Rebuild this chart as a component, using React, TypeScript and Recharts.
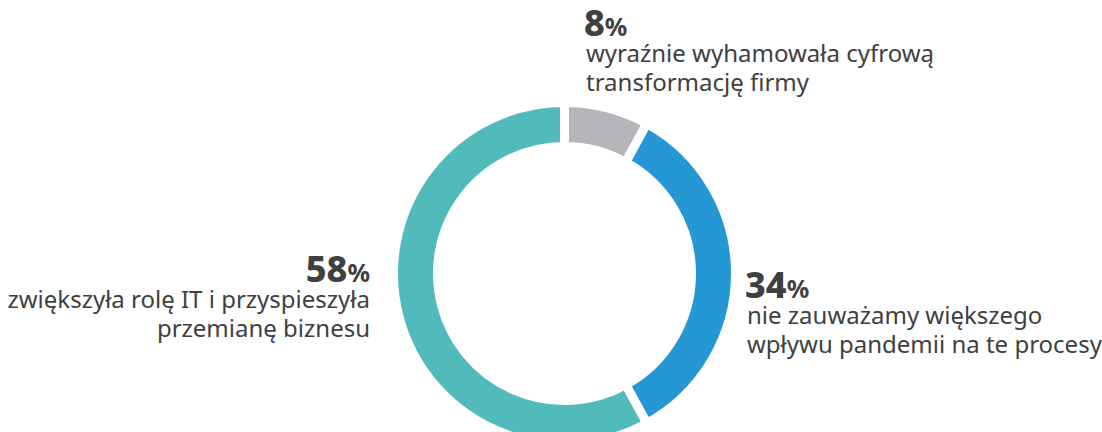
import React from "react";
import { PieChart, Pie, Cell } from "recharts";

const categories = [
  "wyraźnie wyhamowała cyfrową|transformację firmy",
  "nie zauważamy większego|wpływu pandemii na te procesy",
  "zwiększyła rolę IT i przyspieszyła|przemianę biznesu",
];
const values = [8, 34, 58];
const colors = ["#b5b6b9", "#2597d5", "#51bbbc"];

const data = categories.map((c, i) => ({ name: c, value: values[i] }));

// label layout (style only): anchor x, baseline y of number, text anchor
const labelLayout = [
  { x: 584, y: 36, anchor: "start" },
  { x: 745, y: 298, anchor: "start" },
  { x: 370, y: 282, anchor: "end" },
];

const FONT = "'Noto Sans', 'Open Sans', sans-serif";

const renderLabel = (props: any) => {
  const { index } = props;
  const l = labelLayout[index];
  const lines = String(data[index].name).split("|");
  return (
    <g key={"lbl" + index}>
      <text
        x={l.x}
        y={l.y}
        textAnchor={l.anchor}
        fill="#404040"
        fontFamily={FONT}
      >
        <tspan fontSize={36} fontWeight={800}>
          {data[index].value}
        </tspan>
        <tspan fontSize={25} fontWeight={700}>
          %
        </tspan>
      </text>
      {lines.map((ln, k) => (
        <text
          key={k}
          x={l.x + (l.anchor === "start" ? 2 : 0)}
          y={l.y + 26 + k * 29}
          textAnchor={l.anchor}
          fill="#404040"
          fontFamily={FONT}
          fontSize={24}
        >
          {ln}
        </text>
      ))}
    </g>
  );
};

export default function App() {
  return (
    <div style={{ position: "absolute", left: 0, top: 0, width: 1102, height: 432, background: "#fff" }}>
      <PieChart width={1102} height={432}>
        <Pie
          data={data}
          dataKey="value"
          cx={559.5}
          cy={268.5}
          innerRadius={127}
          outerRadius={171}
          startAngle={90}
          endAngle={-270}
          stroke="#ffffff"
          strokeWidth={9}
          label={renderLabel}
          labelLine={false}
          isAnimationActive={false}
        >
          {data.map((d, i) => (
            <Cell key={i} fill={colors[i]} />
          ))}
        </Pie>
      </PieChart>
    </div>
  );
}
